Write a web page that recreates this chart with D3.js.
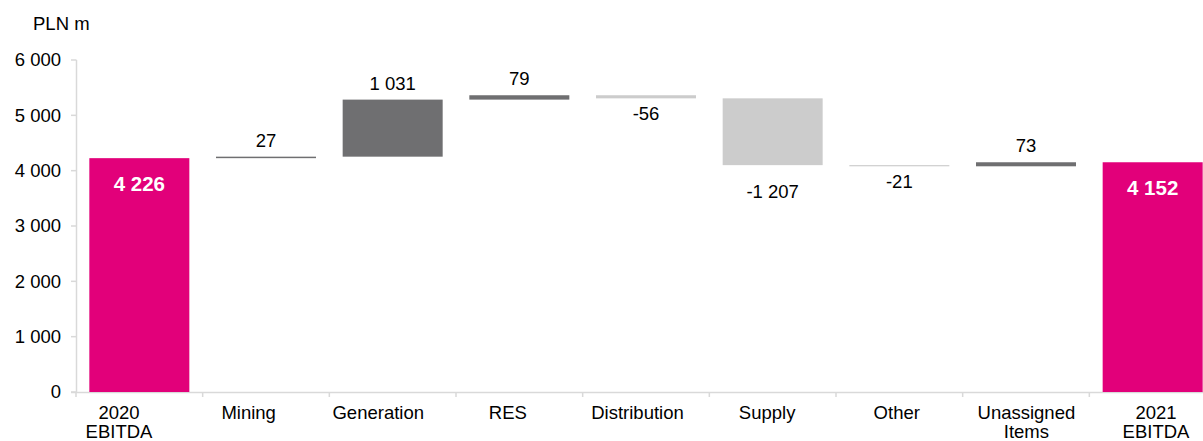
<!DOCTYPE html>
<html>
<head>
<meta charset="utf-8">
<script src="https://cdn.jsdelivr.net/npm/d3@7"></script>
<style>
  html, body { margin: 0; padding: 0; background: #fff; }
  svg { display: block; font-family: "Liberation Sans", Arial, sans-serif; }
</style>
</head>
<body>
<svg id="chart" width="1203" height="441"></svg>
<script>
// EBITDA bridge 2020 -> 2021, PLN m
const categories = [["2020", "EBITDA"], ["Mining"], ["Generation"], ["RES"], ["Distribution"], ["Supply"], ["Other"], ["Unassigned", "Items"], ["2021", "EBITDA"]];
const kinds = ["total", "delta", "delta", "delta", "delta", "delta", "delta", "delta", "total"];
const values = [4226, 27, 1031, 79, -56, -1207, -21, 73, 4152];
const valueLabels = ["4 226", "27", "1 031", "79", "-56", "-1 207", "-21", "73", "4 152"];
const yTicks = [0, 1000, 2000, 3000, 4000, 5000, 6000];
const yTickLabels = ["0", "1 000", "2 000", "3 000", "4 000", "5 000", "6 000"];
const unitLabel = "PLN m";

const COLORS = { total: "#E2007A", up: "#6F6F71", down: "#CCCCCC", axis: "#D9D9D9", text: "#000000" };
const FONT = 18.5;

const svg = d3.select("#chart");

// running start/end for each step of the bridge
let running = 0;
const bars = values.map((v, i) => {
  let start, end;
  if (kinds[i] === "total") { start = 0; end = v; running = v; }
  else { start = running; end = running + v; running = end; }
  return { i, kind: kinds[i], value: v, start, end, label: valueLabels[i] };
});

const x = d3.scaleBand()
  .domain(d3.range(categories.length))
  .range([76, 1216])
  .paddingInner(0.2105)
  .paddingOuter(0.10525);

// category captions sit on their own spacing
const xLabel = d3.scalePoint()
  .domain(d3.range(categories.length))
  .range([119, 1156]);

const y = d3.scaleLinear().domain([0, 6000]).range([392, 60]);

// unit caption
svg.append("text")
  .attr("x", 33).attr("y", 30)
  .attr("font-size", FONT).attr("fill", COLORS.text)
  .text(unitLabel);

// y axis
const yAxis = svg.append("g");
yAxis.append("line")
  .attr("x1", 76.5).attr("x2", 76.5)
  .attr("y1", y(6000)).attr("y2", y(0))
  .attr("stroke", COLORS.axis).attr("stroke-width", 1.5);
yAxis.selectAll("line.tick").data(yTicks).join("line")
  .attr("class", "tick")
  .attr("x1", 71).attr("x2", 76.5)
  .attr("y1", d => y(d)).attr("y2", d => y(d))
  .attr("stroke", COLORS.axis).attr("stroke-width", 1.5);
yAxis.selectAll("text").data(yTicks).join("text")
  .attr("x", 61).attr("y", d => y(d))
  .attr("dy", "0.35em")
  .attr("text-anchor", "end")
  .attr("font-size", FONT).attr("fill", COLORS.text)
  .text((d, i) => yTickLabels[i]);

// x axis
const xAxis = svg.append("g");
xAxis.append("line")
  .attr("x1", 71).attr("x2", 1203)
  .attr("y1", y(0) + 0.5).attr("y2", y(0) + 0.5)
  .attr("stroke", COLORS.axis).attr("stroke-width", 1.5);
const boundaries = d3.range(categories.length + 1).map(k => x.range()[0] + k * x.step());
xAxis.selectAll("line.tick").data(boundaries).join("line")
  .attr("class", "tick")
  .attr("x1", d => d).attr("x2", d => d)
  .attr("y1", y(0)).attr("y2", y(0) + 5)
  .attr("stroke", COLORS.axis).attr("stroke-width", 1.5);
xAxis.selectAll("text").data(categories).join("text")
  .attr("text-anchor", "middle")
  .attr("font-size", FONT).attr("fill", COLORS.text)
  .each(function (lines, i) {
    const t = d3.select(this);
    lines.forEach((ln, k) => {
      t.append("tspan")
        .attr("x", xLabel(i))
        .attr("y", 419 + k * 19)
        .text(ln);
    });
  });

// bars
svg.append("g").selectAll("rect").data(bars).join("rect")
  .attr("x", d => x(d.i))
  .attr("width", x.bandwidth())
  .attr("y", d => y(Math.max(d.start, d.end)))
  .attr("height", d => Math.abs(y(d.start) - y(d.end)))
  .attr("fill", d => d.kind === "total" ? COLORS.total : (d.value >= 0 ? COLORS.up : COLORS.down));

// value labels
svg.append("g").selectAll("text").data(bars).join("text")
  .attr("x", d => x(d.i) + x.bandwidth() / 2)
  .attr("y", d => {
    if (d.kind === "total") return y(d.end) + 33;
    if (d.value >= 0) return y(d.end) - 10;
    return y(d.end) + (Math.abs(d.value) > 500 ? 33 : 22);
  })
  .attr("text-anchor", "middle")
  .attr("font-size", d => d.kind === "total" ? 20.5 : FONT)
  .attr("font-weight", d => d.kind === "total" ? "bold" : "normal")
  .attr("fill", d => d.kind === "total" ? "#FFFFFF" : COLORS.text)
  .text(d => d.label);
</script>
</body>
</html>
